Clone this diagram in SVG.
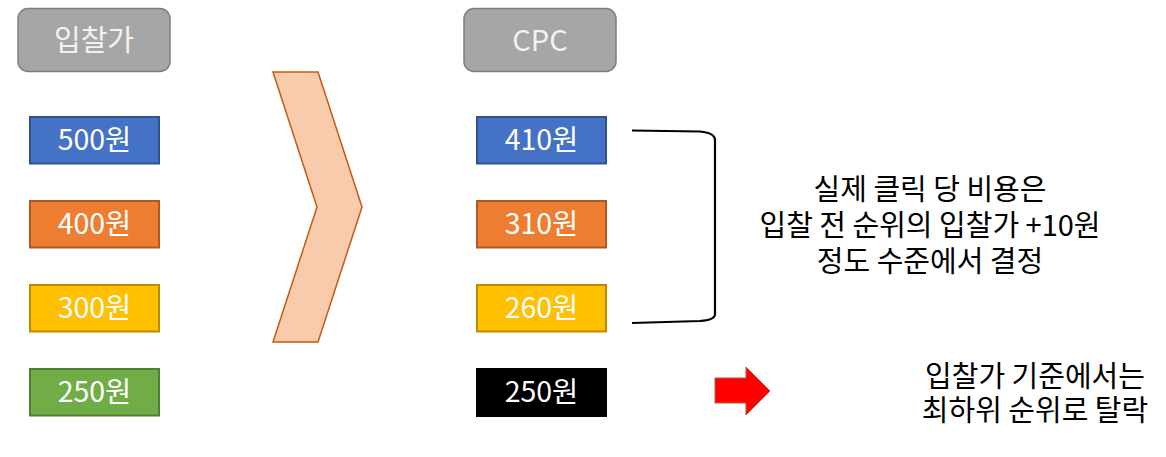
<svg xmlns="http://www.w3.org/2000/svg" width="1166" height="457" viewBox="0 0 1166 457">
<style>
text{font-family:"Noto Sans CJK KR","Noto Sans",sans-serif;text-anchor:middle}
.hdr{fill:#a6a6a6;stroke:#7f7f7f;stroke-width:1.5}
.ht{fill:#f2f2f2;font-size:29px}
.bt{fill:#fff;font-size:28.5px}
.dt{fill:#000;font-size:29px}
.blue{fill:#4472c4;stroke:#2f528f;stroke-width:2}
.orange{fill:#ed7d31;stroke:#ae5a21;stroke-width:2}
.yellow{fill:#ffc000;stroke:#bc8c00;stroke-width:2}
.green{fill:#70ad47;stroke:#507e32;stroke-width:2}
.black{fill:#000}
</style>
<rect width="1166" height="457" fill="#fff"/>
<g id="hdr-bid"><rect class="hdr" x="18" y="8.5" width="152" height="63" rx="10"/><text class="ht" x="94" y="51">입찰가</text></g>
<g id="hdr-cpc"><rect class="hdr" x="464" y="8.5" width="152" height="63" rx="10"/><text class="ht" x="540" y="51">CPC</text></g>
<g id="b500"><rect class="blue" x="30" y="117" width="129" height="46.5"/><text class="bt" x="94.5" y="150">500원</text></g>
<g id="b400"><rect class="orange" x="30" y="201" width="129" height="46.5"/><text class="bt" x="94.5" y="234">400원</text></g>
<g id="b300"><rect class="yellow" x="30" y="285" width="129" height="46.5"/><text class="bt" x="94.5" y="318">300원</text></g>
<g id="b250"><rect class="green" x="30" y="369" width="129" height="46.5"/><text class="bt" x="94.5" y="402">250원</text></g>
<g id="chevron"><polygon points="273,72 318,72 362,207 318,342 273,342 317,207" fill="#f8cbad" stroke="#c55a11" stroke-width="1.5"/></g>
<g id="c410"><rect class="blue" x="477" y="117" width="129" height="46.5"/><text class="bt" x="541.5" y="150">410원</text></g>
<g id="c310"><rect class="orange" x="477" y="201" width="129" height="46.5"/><text class="bt" x="541.5" y="234">310원</text></g>
<g id="c260"><rect class="yellow" x="477" y="285" width="129" height="46.5"/><text class="bt" x="541.5" y="318">260원</text></g>
<g id="c250"><rect class="black" x="476" y="368" width="131" height="49"/><text class="bt" x="541.5" y="402">250원</text></g>
<g id="connectors">
<path d="M632,130.5 L700,131.5 Q715,133 715,140 L715,314 Q715,320 700,321 L632,323" fill="none" stroke="#000" stroke-width="2.2"/>
<polygon points="715,378 746,378 746,367 770,391 746,415 746,403 715,403" fill="#ff0000" stroke="#b05a3a" stroke-width="1"/>
</g>
<g id="note1"><text class="dt" x="930" y="200">실제 클릭 당 비용은</text><text class="dt" x="930" y="236">입찰 전 순위의 입찰가 +10원</text><text class="dt" x="930" y="272">정도 수준에서 결정</text></g>
<g id="note2"><text class="dt" x="1035" y="387">입찰가 기준에서는</text><text class="dt" x="1035" y="421">최하위 순위로 탈락</text></g>
</svg>
